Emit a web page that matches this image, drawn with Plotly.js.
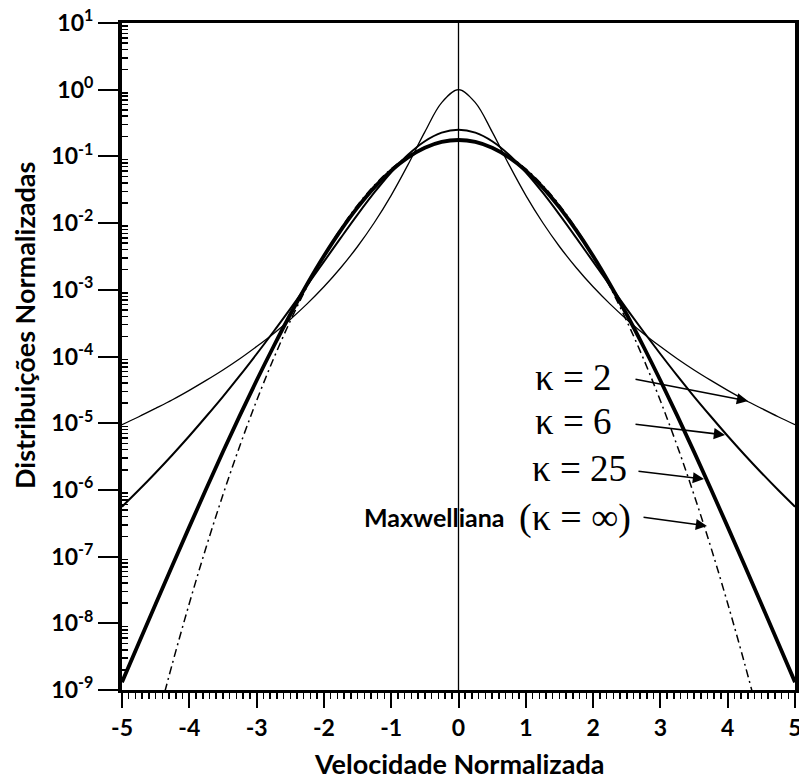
<!DOCTYPE html>
<html>
<head>
<meta charset="utf-8">
<script src="https://cdn.plot.ly/plotly-3.0.1.min.js"></script>
<style>html,body{margin:0;padding:0;background:#fff;}</style>
</head>
<body>
<div id="chart" style="width:799px;height:779px;"></div>
<script>
// Normalized velocity grid
var velocity = [-5,-4.75,-4.5,-4.25,-4,-3.75,-3.5,-3.25,-3,-2.75,-2.5,-2.25,-2,-1.75,-1.5,-1.25,-1,-0.75,-0.5,-0.25,0,
                0.25,0.5,0.75,1,1.25,1.5,1.75,2,2.25,2.5,2.75,3,3.25,3.5,3.75,4,4.25,4.5,4.75,5];

// kappa = 2
var kappa2 = [9.5e-6,1.25e-5,1.67e-5,2.25e-5,3.11e-5,4.38e-5,6.28e-5,9.25e-5,1.41e-4,2.20e-4,3.60e-4,6.15e-4,1.109e-3,2.14e-3,4.46e-3,1.021e-2,2.61e-2,7.52e-2,0.2333,0.641,1.0,
              0.641,0.2333,7.52e-2,2.61e-2,1.021e-2,4.46e-3,2.14e-3,1.109e-3,6.15e-4,3.60e-4,2.20e-4,1.41e-4,9.25e-5,6.28e-5,4.38e-5,3.11e-5,2.25e-5,1.67e-5,1.25e-5,9.5e-6];

// kappa = 6
var kappa6 = [5.60e-7,9.95e-7,1.81e-6,3.37e-6,6.43e-6,1.26e-5,2.51e-5,5.16e-5,1.09e-4,2.35e-4,5.19e-4,1.164e-3,2.64e-3,6.00e-3,1.340e-2,2.88e-2,5.79e-2,0.1059,0.1687,0.2270,0.2512,
              0.2270,0.1687,0.1059,5.79e-2,2.88e-2,1.340e-2,6.00e-3,2.64e-3,1.164e-3,5.19e-4,2.35e-4,1.09e-4,5.16e-5,2.51e-5,1.26e-5,6.43e-6,3.37e-6,1.81e-6,9.95e-7,5.60e-7];

// kappa = 25
var kappa25 = [1.31e-9,5.06e-9,1.95e-8,7.41e-8,2.79e-7,1.03e-6,3.72e-6,1.30e-5,4.37e-5,1.40e-4,4.26e-4,1.213e-3,3.21e-3,7.78e-3,1.718e-2,3.43e-2,6.11e-2,9.66e-2,0.1346,0.1648,0.1762,
               0.1648,0.1346,9.66e-2,6.11e-2,3.43e-2,1.718e-2,7.78e-3,3.21e-3,1.213e-3,4.26e-4,1.40e-4,4.37e-5,1.30e-5,3.72e-6,1.03e-6,2.79e-7,7.41e-8,1.95e-8,5.06e-9,1.31e-9];

// Maxwellian (kappa = infinity)
var maxwellian = [null,null,2.83e-10,2.52e-9,1.98e-8,1.38e-7,8.43e-7,4.56e-6,2.17e-5,9.16e-5,3.40e-4,1.114e-3,3.23e-3,8.24e-3,1.858e-2,3.69e-2,6.49e-2,0.1005,0.1371,0.1656,0.1762,
                  0.1656,0.1371,0.1005,6.49e-2,3.69e-2,1.858e-2,8.24e-3,3.23e-3,1.114e-3,3.40e-4,9.16e-5,2.17e-5,4.56e-6,8.43e-7,1.38e-7,1.98e-8,2.52e-9,2.83e-10,null,null];

// Axis ticks
var xTickVals = [-5,-4,-3,-2,-1,0,1,2,3,4,5];
var xTickText = ['-5','-4','-3','-2','-1','0','1','2','3','4','5'];
var yTickVals = [1e1,1e0,1e-1,1e-2,1e-3,1e-4,1e-5,1e-6,1e-7,1e-8,1e-9];
var yTickText = ['10<sup>1</sup>','10<sup>0</sup>','10<sup>-1</sup>','10<sup>-2</sup>','10<sup>-3</sup>','10<sup>-4</sup>',
                 '10<sup>-5</sup>','10<sup>-6</sup>','10<sup>-7</sup>','10<sup>-8</sup>','10<sup>-9</sup>'];

// Labels
var xTitle = 'Velocidade Normalizada';
var yTitle = 'Distribuições Normalizadas';
var curveLabels = ['κ = 2','κ = 6','κ = 25'];
var maxLabel = 'Maxwelliana';
var maxLabelKappa = '(κ = ∞)';

var yMinor = [];
for (var d = -9; d < 1; d++) { for (var m = 2; m <= 9; m++) { yMinor.push(m * Math.pow(10, d)); } }

var traces = [
  {x: velocity, y: maxwellian, mode: 'lines', line: {color: '#000', width: 1.5, dash: '8px,4px,2px,4px', shape: 'spline'}, connectgaps: false, hoverinfo: 'skip'},
  {x: velocity, y: kappa2, mode: 'lines', line: {color: '#000', width: 1.3, shape: 'spline'}, hoverinfo: 'skip'},
  {x: velocity, y: kappa6, mode: 'lines', line: {color: '#000', width: 2, shape: 'spline'}, hoverinfo: 'skip'},
  {x: velocity, y: kappa25, mode: 'lines', line: {color: '#000', width: 3.8, shape: 'spline'}, hoverinfo: 'skip'}
];

var fontSans = 'Lato, "Open Sans", sans-serif';
var fontSerif = '"Liberation Serif", "DejaVu Serif", serif';

function px2paperX(p) { return (p - 122) / 673; }
function px2paperY(p) { return (690 - p) / 667; }

var arrowStyle = {showarrow: true, arrowhead: 2, arrowsize: 1.4, arrowwidth: 1.6, arrowcolor: '#000', text: '', xref: 'x', yref: 'y', axref: 'x', ayref: 'y'};
function arrow(x, y, ax, ay) { return Object.assign({x: x, y: y, ax: ax, ay: ay}, arrowStyle); }
function label(text, px, py, anchor, font) {
  return {text: text, xref: 'paper', yref: 'paper', x: px2paperX(px), y: px2paperY(py), xanchor: anchor, yanchor: 'middle', showarrow: false, font: font};
}
var serifFont = {family: fontSerif, size: 37, color: '#000'};

var annotations = [
  label(curveLabels[0], 533, 377, 'left', serifFont),
  label(curveLabels[1], 533, 422, 'left', serifFont),
  label(curveLabels[2], 530, 468, 'left', serifFont),
  label(maxLabel, 507, 517, 'right', {family: fontSans, size: 25, color: '#000', weight: 'bold'}),
  label(maxLabelKappa, 517, 517, 'left', {family: fontSerif, size: 38, color: '#000'}),
  arrow(4.302, -4.667, 2.608, -4.337),
  arrow(3.960, -5.177, 2.608, -5.012),
  arrow(3.648, -5.837, 2.652, -5.717),
  arrow(3.692, -6.541, 2.727, -6.406),
  {text: yTitle, xref: 'paper', yref: 'paper', x: px2paperX(24), y: px2paperY(326), xanchor: 'center', yanchor: 'middle', textangle: -90, showarrow: false,
   font: {family: fontSans, size: 27, color: '#000', weight: 'bold'}},
  {text: xTitle, xref: 'paper', yref: 'paper', x: px2paperX(459), y: px2paperY(764), xanchor: 'center', yanchor: 'middle', showarrow: false,
   font: {family: fontSans, size: 27, color: '#000', weight: 'bold'}}
];

var layout = {
  width: 799, height: 779,
  margin: {l: 122, r: 4, t: 23, b: 89, pad: 0},
  paper_bgcolor: '#fff', plot_bgcolor: '#fff',
  showlegend: false,
  font: {family: fontSans, color: '#000'},
  xaxis: {
    range: [-5, 5], tickmode: 'array', tickvals: xTickVals, ticktext: xTickText,
    ticks: 'outside', ticklen: 15, tickwidth: 2, tickcolor: '#000',
    ticklabeloverflow: 'allow',
    minor: {dtick: 0.1, ticks: 'outside', ticklen: 6, tickwidth: 1.5, tickcolor: '#000', showgrid: false},
    showline: true, linewidth: 3, linecolor: '#000', mirror: true,
    showgrid: false, zeroline: false,
    tickfont: {family: fontSans, size: 23, color: '#000', weight: 'bold'}
  },
  yaxis: {
    type: 'log', range: [-9, 1], tickmode: 'array', tickvals: yTickVals, ticktext: yTickText,
    ticks: 'outside', ticklen: 20, tickwidth: 2, tickcolor: '#000',
    ticklabeloverflow: 'allow',
    minor: {tickmode: 'array', tickvals: yMinor, ticks: 'inside', ticklen: 6, tickwidth: 1.5, tickcolor: '#000', showgrid: false},
    showline: true, linewidth: 4, linecolor: '#000', mirror: true,
    showgrid: false, zeroline: false,
    tickfont: {family: fontSans, size: 23, color: '#000', weight: 'bold'}
  },
  shapes: [
    {type: 'line', xref: 'x', yref: 'paper', x0: 0, x1: 0, y0: 0, y1: 1, line: {color: '#000', width: 1.3}}
  ],
  annotations: annotations
};

Plotly.newPlot('chart', traces, layout, {displayModeBar: false, staticPlot: true});
</script>
</body>
</html>
